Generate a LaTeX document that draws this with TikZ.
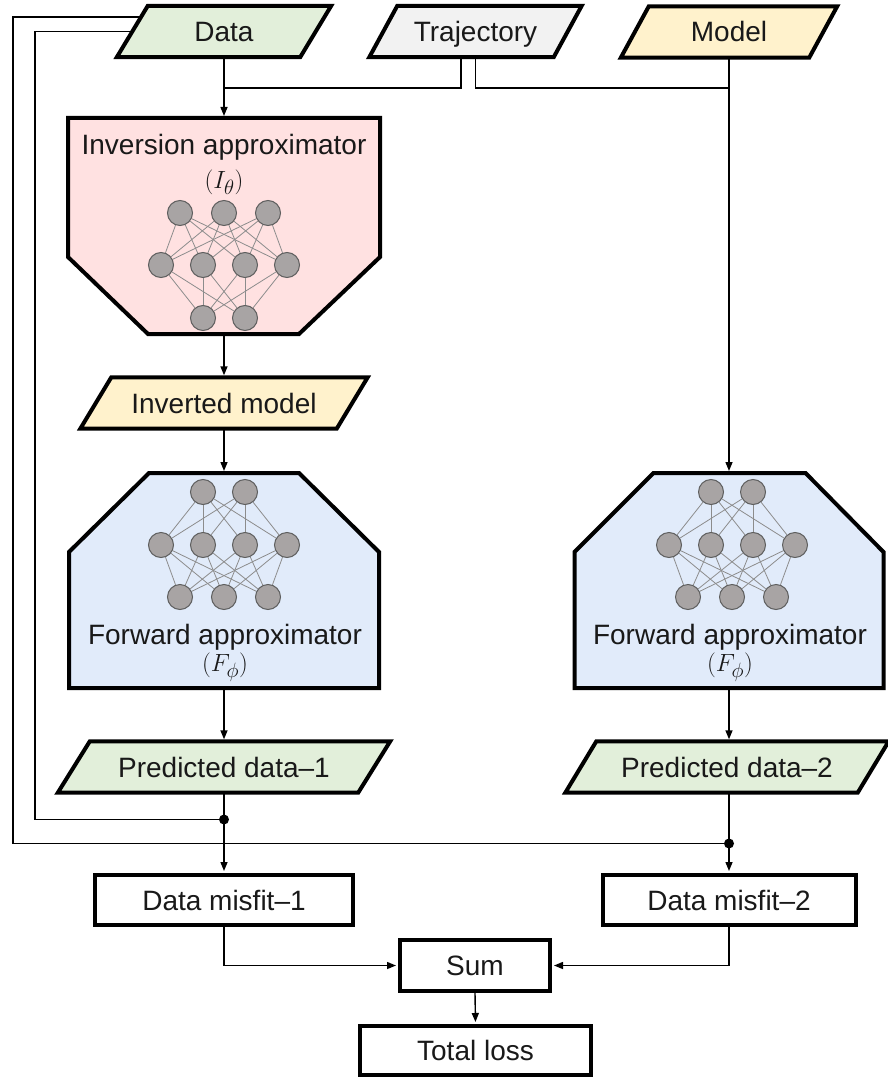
\documentclass[tikz,border=0pt]{standalone}
\usepackage{fontspec}
\setmainfont{Liberation Sans}
\usetikzlibrary{arrows.meta,calc,backgrounds}

\definecolor{fillgreen}{HTML}{E2EFDA}
\definecolor{fillgray}{HTML}{F2F2F2}
\definecolor{fillyellow}{HTML}{FFF2CC}
\definecolor{fillpink}{HTML}{FFE1E1}
\definecolor{fillblue}{HTML}{E1EBFA}
\definecolor{neuronfill}{HTML}{A8A4A4}
\definecolor{neuronedge}{HTML}{5E5E5E}
\definecolor{synapsecol}{HTML}{8C8C8C}

\tikzset{
  lbl/.style={font=\fontsize{28}{34}\selectfont, text=black!90, inner sep=0pt,
              text height=20pt, text depth=0pt},
  mathlbl/.style={font=\fontsize{28}{34}\selectfont, text=black!90, inner sep=0pt},
  io/.style={lbl, minimum height=51pt},
  holder/.style={inner sep=0pt, outer sep=0pt},
  boxnode/.style={lbl, draw, line width=4pt, fill=white, minimum height=50pt},
  outline/.style={line width=4pt, line join=miter},
  wire/.style={line width=1.4pt},
  flow/.style={wire, -{Triangle[length=9pt,width=7pt]}, shorten >=2pt},
  neuron/.style={circle, draw=neuronedge, fill=neuronfill, line width=1pt,
                 minimum size=25pt, inner sep=0pt},
  synapse/.style={draw=synapsecol, line width=0.8pt},
  jdot/.style={circle, fill=black, minimum size=10pt, inner sep=0pt},
}

% parallelogram around a node: name, fill, half of the slant
\newcommand\ioframe[3]{%
  \draw[outline, fill=#2]
    ($(#1.south west)+(-#3,0)$) -- ($(#1.south east)+(-#3,0)$) --
    ($(#1.north east)+(#3,0)$) -- ($(#1.north west)+(#3,0)$) -- cycle;}

% one layer of neurons: prefix, centre x, y, offsets
\newcommand\layer[4]{%
  \foreach \o [count=\k] in {#4} \node[neuron] (#1\k) at ({#2+\o},#3) {};}
% full connection between two layers: prefix a, size a, prefix b, size b
\newcommand\linkall[4]{%
  \foreach \i in {1,...,#2} \foreach \j in {1,...,#4} \draw[synapse] (#1\i) -- (#3\j);}

\begin{document}
\begin{tikzpicture}[x=1pt,y=-1pt]
\useasboundingbox (0,0) rectangle (888,1078);

% inputs
\node[io, minimum width=183] (data)  at (224,31.5)   {Data};
\node[io, minimum width=184] (traj)  at (475.5,31.5) {Trajectory};
\node[io, minimum width=188] (model) at (729,32)     {Model};

% inversion approximator
\node[holder, minimum width=312, minimum height=216] (inv) at (224,226) {};
\node[lbl, anchor=base] (invT) at (224,155) {Inversion approximator};
\node[mathlbl] (invS) at (224,182) {$(I_\theta)$};
\layer{ia}{224}{213}{-44,0,44}
\layer{ib}{224}{265}{-63,-21,21,63}
\layer{ic}{224}{318}{-21,21}
\linkall{ia}{3}{ib}{4}
\linkall{ib}{4}{ic}{2}

\node[io, minimum width=256] (invm) at (224,403) {Inverted model};

% forward approximators
\node[holder, minimum width=310, minimum height=215] (fwd1) at (224,580.5) {};
\layer{fa}{224}{492}{-21,21}
\layer{fb}{224}{545}{-63,-21,21,63}
\layer{fc}{224}{597}{-44,0,44}
\linkall{fa}{2}{fb}{4}
\linkall{fb}{4}{fc}{3}
\node[lbl, anchor=base] (fwd1T) at (225,644) {Forward approximator};
\node[mathlbl] (fwd1S) at (225,667.5) {$(F_\phi)$};

\node[holder, minimum width=309, minimum height=215] (fwd2) at (729,580.5) {};
\layer{ga}{732}{492}{-21,21}
\layer{gb}{732}{545}{-63,-21,21,63}
\layer{gc}{732}{597}{-44,0,44}
\linkall{ga}{2}{gb}{4}
\linkall{gb}{4}{gc}{3}
\node[lbl, anchor=base] (fwd2T) at (730,644) {Forward approximator};
\node[mathlbl] (fwd2S) at (730,667.5) {$(F_\phi)$};

% predictions and losses
\node[io, minimum width=300] (pred1) at (224,767) {Predicted data–1};
\node[io, minimum width=292] (pred2) at (727,767) {Predicted data–2};
\node[boxnode, minimum width=258] (mis1) at (224,900) {Data misfit–1};
\node[boxnode, minimum width=253] (mis2) at (729,900) {Data misfit–2};
\node[boxnode, minimum width=150, minimum height=51] (sum) at (475,965.5) {Sum};
\node[boxnode, minimum width=231, minimum height=49] (total) at (475.5,1050.5) {Total loss};

% junctions
\node[jdot] (j1) at (224,819.5) {};
\node[jdot] (j2) at (729,843.5) {};
\coordinate (m1) at (224,88);
\coordinate (m2) at (729,88);
\coordinate (dOut) at ($(data.west)+(8.8,-14.5)$);
\coordinate (tL) at ($(traj.south)+(-14.5,0)$);
\coordinate (tR) at (traj.south);

% shapes behind the labels
\begin{scope}[on background layer]
  \ioframe{data}{fillgreen}{15.5}
  \ioframe{traj}{fillgray}{14}
  \ioframe{model}{fillyellow}{14}
  \ioframe{invm}{fillyellow}{15.5}
  \ioframe{pred1}{fillgreen}{16}
  \ioframe{pred2}{fillgreen}{15.5}
  \draw[outline, fill=fillpink]
    (inv.north west) -- (inv.north east) -- ($(inv.south east)+(0,-77)$) --
    ($(inv.south east)+(-81,0)$) -- ($(inv.south west)+(80,0)$) --
    ($(inv.south west)+(0,-77)$) -- cycle;
  \draw[outline, fill=fillblue]
    ($(fwd1.north west)+(80,0)$) -- ($(fwd1.north east)+(-80,0)$) --
    ($(fwd1.north east)+(0,79)$) -- (fwd1.south east) -- (fwd1.south west) --
    ($(fwd1.north west)+(0,79)$) -- cycle;
  \draw[outline, fill=fillblue]
    ($(fwd2.north west)+(79,0)$) -- ($(fwd2.north east)+(-78,0)$) --
    ($(fwd2.north east)+(0,79)$) -- (fwd2.south east) -- (fwd2.south west) --
    ($(fwd2.north west)+(0,79)$) -- cycle;
\end{scope}

% connectors
\draw[flow] (data.south) -- (inv.north);
\draw[wire] (tL) |- (m1);
\draw[wire] (tR) |- (m2);
\draw[flow] (model.south) -- (fwd2.north);
\draw[flow] (inv.south) -- (invm.north);
\draw[flow] (invm.south) -- (fwd1.north);
\draw[flow] (fwd1.south) -- (pred1.north);
\draw[flow] (fwd2.south) -- (fwd2.south |- pred2.north);
\draw[flow] (pred1.south) -- (mis1.north);
\draw[flow] (j2 |- pred2.south) -- (mis2.north);
\draw[wire] (data.west) -- (35,31.5) |- (j1);
\draw[wire] (dOut) -- (13,17) |- (j2);
\draw[flow] (mis1.south) |- (sum.west);
\draw[flow] (mis2.south) |- (sum.east);
\draw[flow] (sum.south) -- (total.north);
\end{tikzpicture}
\end{document}
